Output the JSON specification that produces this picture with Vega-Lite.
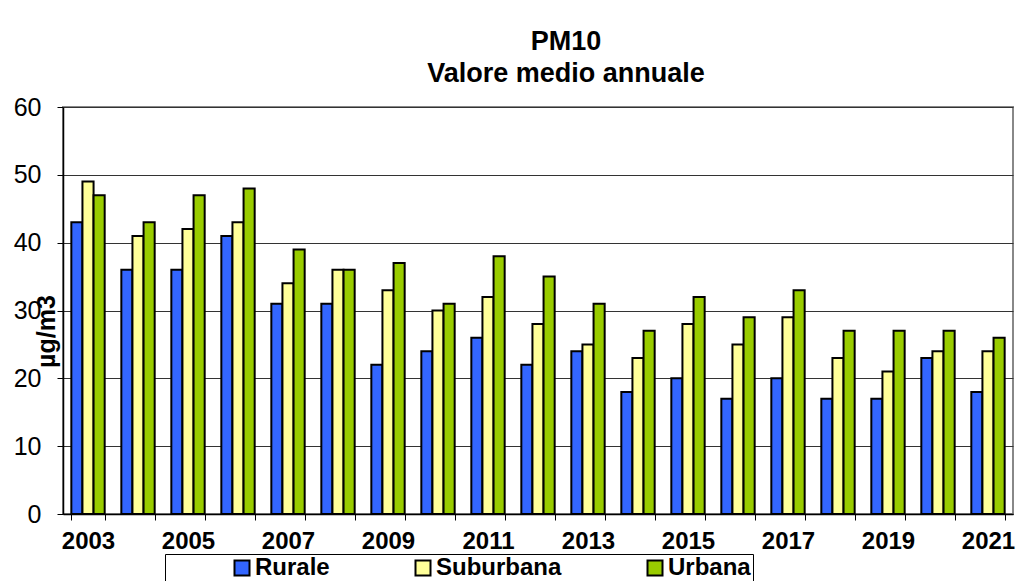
{
  "$schema": "https://vega.github.io/schema/vega-lite/v6.json",
  "width": 950,
  "height": 407,
  "autosize": {"type": "none"},
  "padding": {"left": 63, "top": 107, "right": 6, "bottom": 67},
  "background": "white",
  "title": {
    "text": ["PM10", "Valore medio annuale"],
    "font": "Liberation Sans",
    "fontSize": 27,
    "fontWeight": "bold",
    "color": "black",
    "anchor": "middle",
    "frame": "group",
    "dx": 28,
    "lineHeight": 32,
    "offset": 7
  },
  "data": {
    "values": [
      {"anno": "2003", "zona": "Rurale", "valore": 43}, {"anno": "2003", "zona": "Suburbana", "valore": 49}, {"anno": "2003", "zona": "Urbana", "valore": 47},
      {"anno": "2004", "zona": "Rurale", "valore": 36}, {"anno": "2004", "zona": "Suburbana", "valore": 41}, {"anno": "2004", "zona": "Urbana", "valore": 43},
      {"anno": "2005", "zona": "Rurale", "valore": 36}, {"anno": "2005", "zona": "Suburbana", "valore": 42}, {"anno": "2005", "zona": "Urbana", "valore": 47},
      {"anno": "2006", "zona": "Rurale", "valore": 41}, {"anno": "2006", "zona": "Suburbana", "valore": 43}, {"anno": "2006", "zona": "Urbana", "valore": 48},
      {"anno": "2007", "zona": "Rurale", "valore": 31}, {"anno": "2007", "zona": "Suburbana", "valore": 34}, {"anno": "2007", "zona": "Urbana", "valore": 39},
      {"anno": "2008", "zona": "Rurale", "valore": 31}, {"anno": "2008", "zona": "Suburbana", "valore": 36}, {"anno": "2008", "zona": "Urbana", "valore": 36},
      {"anno": "2009", "zona": "Rurale", "valore": 22}, {"anno": "2009", "zona": "Suburbana", "valore": 33}, {"anno": "2009", "zona": "Urbana", "valore": 37},
      {"anno": "2010", "zona": "Rurale", "valore": 24}, {"anno": "2010", "zona": "Suburbana", "valore": 30}, {"anno": "2010", "zona": "Urbana", "valore": 31},
      {"anno": "2011", "zona": "Rurale", "valore": 26}, {"anno": "2011", "zona": "Suburbana", "valore": 32}, {"anno": "2011", "zona": "Urbana", "valore": 38},
      {"anno": "2012", "zona": "Rurale", "valore": 22}, {"anno": "2012", "zona": "Suburbana", "valore": 28}, {"anno": "2012", "zona": "Urbana", "valore": 35},
      {"anno": "2013", "zona": "Rurale", "valore": 24}, {"anno": "2013", "zona": "Suburbana", "valore": 25}, {"anno": "2013", "zona": "Urbana", "valore": 31},
      {"anno": "2014", "zona": "Rurale", "valore": 18}, {"anno": "2014", "zona": "Suburbana", "valore": 23}, {"anno": "2014", "zona": "Urbana", "valore": 27},
      {"anno": "2015", "zona": "Rurale", "valore": 20}, {"anno": "2015", "zona": "Suburbana", "valore": 28}, {"anno": "2015", "zona": "Urbana", "valore": 32},
      {"anno": "2016", "zona": "Rurale", "valore": 17}, {"anno": "2016", "zona": "Suburbana", "valore": 25}, {"anno": "2016", "zona": "Urbana", "valore": 29},
      {"anno": "2017", "zona": "Rurale", "valore": 20}, {"anno": "2017", "zona": "Suburbana", "valore": 29}, {"anno": "2017", "zona": "Urbana", "valore": 33},
      {"anno": "2018", "zona": "Rurale", "valore": 17}, {"anno": "2018", "zona": "Suburbana", "valore": 23}, {"anno": "2018", "zona": "Urbana", "valore": 27},
      {"anno": "2019", "zona": "Rurale", "valore": 17}, {"anno": "2019", "zona": "Suburbana", "valore": 21}, {"anno": "2019", "zona": "Urbana", "valore": 27},
      {"anno": "2020", "zona": "Rurale", "valore": 23}, {"anno": "2020", "zona": "Suburbana", "valore": 24}, {"anno": "2020", "zona": "Urbana", "valore": 27},
      {"anno": "2021", "zona": "Rurale", "valore": 18}, {"anno": "2021", "zona": "Suburbana", "valore": 24}, {"anno": "2021", "zona": "Urbana", "valore": 26}
    ]
  },
  "mark": {"type": "bar", "stroke": "black", "strokeWidth": 2},
  "encoding": {
    "x": {
      "field": "anno",
      "type": "nominal",
      "scale": {"paddingInner": 0.333, "paddingOuter": 0.1667},
      "axis": {
        "title": null,
        "labelAngle": 0,
        "labelFont": "Liberation Sans",
        "labelFontSize": 24,
        "labelFontWeight": "bold",
        "labelColor": "black",
        "labelPadding": 9,
        "labelExpr": "parseInt(datum.value) % 2 == 1 ? datum.value : ''",
        "labelOverlap": false,
        "tickBand": "extent",
        "tickSize": 6,
        "tickColor": "black",
        "domainColor": "black",
        "domainWidth": 1.5,
        "grid": false
      }
    },
    "xOffset": {"field": "zona", "type": "nominal", "sort": ["Rurale", "Suburbana", "Urbana"]},
    "y": {
      "field": "valore",
      "type": "quantitative",
      "scale": {"domain": [0, 60], "nice": false},
      "axis": {
        "values": [0, 10, 20, 30, 40, 50, 60],
        "title": "µg/m3",
        "titleFont": "Liberation Sans",
        "titleFontSize": 25,
        "titleFontWeight": "bold",
        "titleColor": "black",
        "titleAngle": -90,
        "titleAlign": "center",
        "titleBaseline": "middle",
        "titleX": -17,
        "titleY": 224,
        "labelFont": "Liberation Sans",
        "labelFontSize": 25,
        "labelColor": "black",
        "labelPadding": 16,
        "tickSize": 6,
        "tickColor": "black",
        "domainColor": "black",
        "domainWidth": 1.5,
        "gridColor": "#333333",
        "gridWidth": 1
      }
    },
    "fill": {
      "field": "zona",
      "type": "nominal",
      "sort": ["Rurale", "Suburbana", "Urbana"],
      "scale": {"domain": ["Rurale", "Suburbana", "Urbana"], "range": ["#3366FF", "#FFFF99", "#99CC00"]},
      "legend": {
        "title": null,
        "orient": "none",
        "legendX": 102,
        "legendY": 447,
        "direction": "horizontal",
        "padding": 2,
        "strokeColor": "black",
        "fillColor": "white",
        "symbolType": "square",
        "symbolSize": 225,
        "symbolStrokeColor": "black",
        "symbolStrokeWidth": 2,
        "symbolOffset": 63,
        "labelOffset": 1,
        "columnPadding": 18,
        "labelFont": "Liberation Sans",
        "labelFontSize": 24,
        "labelFontWeight": "bold",
        "labelColor": "black",
        "labelLimit": 400
      }
    }
  },
  "config": {
    "view": {"stroke": "#888888", "strokeWidth": 2}
  }
}
